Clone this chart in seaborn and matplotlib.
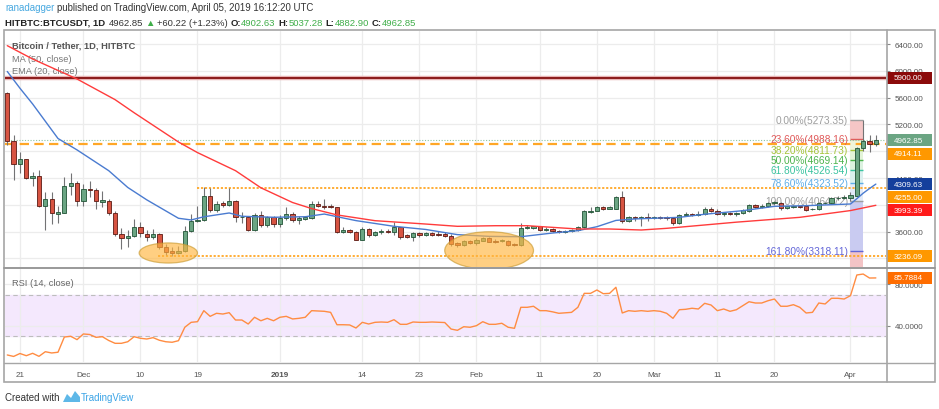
import numpy as np
import pandas as pd
import matplotlib
matplotlib.use("Agg")
import matplotlib.pyplot as plt
import matplotlib.dates as mdates
from matplotlib.patches import Rectangle, Ellipse, Polygon
from matplotlib.lines import Line2D
from matplotlib.transforms import blended_transform_factory
import seaborn as sns

# daily BTC/USDT candles, 2018-11-19 .. 2019-04-05
start = "2018-11-19"
opens = [
    5664, 4948, 4605, 4680, 4396, 4431, 3979, 4083, 3864, 3884,
    4277, 4327, 4053, 4242, 4222, 4048, 4063, 3874, 3567, 3502,
    3537, 3666, 3567, 3527, 3567, 3368, 3308, 3283, 3316, 3605,
    3760, 3774, 4137, 3923, 4028, 4003, 4062, 3813, 3823, 3630,
    3853, 3704, 3813, 3714, 3803, 3863, 3774, 3794, 3799, 4012,
    3983, 3988, 3963, 3600, 3625, 3590, 3480, 3640, 3555, 3590,
    3615, 3590, 3664, 3550, 3525, 3575, 3550, 3575, 3570, 3565,
    3540, 3430, 3406, 3455, 3430, 3465, 3505, 3455, 3455, 3465,
    3416, 3396, 3650, 3650, 3680, 3625, 3640, 3615, 3590, 3605,
    3625, 3664, 3898, 3913, 3973, 3943, 3943, 4112, 3754, 3823,
    3808, 3823, 3808, 3823, 3818, 3808, 3724, 3848, 3860, 3850,
    3863, 3938, 3913, 3858, 3878, 3858, 3873, 3913, 3998, 3973,
    3988, 4022, 4028, 3953, 3973, 3978, 3978, 3933, 3938, 4028,
    4022, 4097, 4097, 4097, 4137, 4843, 4947, 4902.63]
highs = [
    5690, 5047, 4794, 4690, 4486, 4525, 4187, 4197, 3988, 4411,
    4471, 4361, 4312, 4361, 4247, 4212, 4088, 3914, 3656, 3631,
    3789, 3750, 3631, 3641, 3580, 3416, 3367, 3391, 3689, 3864,
    3988, 4261, 4252, 4063, 4063, 4252, 4070, 3888, 3838, 3873,
    3903, 3838, 3838, 3853, 3963, 3888, 3838, 3838, 4052, 4062,
    4087, 4012, 3973, 3665, 3640, 3615, 3665, 3655, 3615, 3640,
    3640, 3739, 3675, 3565, 3590, 3590, 3590, 3590, 3605, 3590,
    3565, 3450, 3475, 3475, 3500, 3525, 3515, 3490, 3490, 3475,
    3425, 3729, 3704, 3690, 3690, 3665, 3655, 3625, 3625, 3640,
    3690, 3923, 3973, 3988, 3988, 3978, 4137, 4201, 3838, 3838,
    3838, 3873, 3838, 3838, 3830, 3818, 3863, 3898, 3880, 3913,
    3963, 3963, 3938, 3898, 3888, 3898, 3943, 4013, 4013, 4013,
    4037, 4052, 4047, 3990, 3998, 3990, 3988, 3960, 4047, 4050,
    4122, 4125, 4145, 4187, 4858, 5273.35, 5042, 5037.28]
lows = [
    4900, 4372, 4471, 4380, 4287, 3964, 3631, 3715, 3725, 3875,
    4148, 3979, 3979, 4122, 3939, 3964, 3854, 3542, 3343, 3368,
    3525, 3515, 3467, 3492, 3343, 3257, 3242, 3267, 3292, 3590,
    3740, 3754, 3888, 3888, 3963, 3988, 3740, 3724, 3605, 3605,
    3674, 3674, 3665, 3665, 3774, 3739, 3714, 3774, 3789, 3963,
    3938, 3948, 3575, 3575, 3575, 3475, 3475, 3525, 3540, 3565,
    3575, 3555, 3490, 3505, 3465, 3525, 3535, 3540, 3540, 3515,
    3391, 3376, 3391, 3416, 3401, 3455, 3440, 3430, 3440, 3391,
    3386, 3391, 3640, 3640, 3615, 3605, 3590, 3580, 3575, 3590,
    3605, 3655, 3873, 3903, 3923, 3933, 3933, 3724, 3739, 3764,
    3689, 3764, 3789, 3789, 3780, 3700, 3714, 3829, 3835, 3829,
    3848, 3888, 3848, 3838, 3843, 3829, 3863, 3898, 3958, 3948,
    3973, 4003, 3928, 3940, 3958, 3950, 3908, 3920, 3928, 4012,
    4008, 4080, 4087, 4064.72, 4127, 4800, 4783, 4882.90]
closes = [
    4948, 4605, 4685, 4396, 4431, 3979, 4088, 3874, 3894, 4277,
    4327, 4053, 4237, 4222, 4053, 4073, 3874, 3567, 3502, 3537,
    3666, 3577, 3527, 3567, 3368, 3302, 3283, 3316, 3605, 3764,
    3774, 4137, 3923, 4013, 3998, 4063, 3813, 3823, 3630, 3853,
    3704, 3813, 3714, 3803, 3863, 3774, 3799, 3813, 4012, 3978,
    3968, 3963, 3590, 3625, 3590, 3480, 3640, 3550, 3590, 3615,
    3590, 3664, 3525, 3525, 3575, 3550, 3575, 3555, 3555, 3540,
    3416, 3406, 3455, 3430, 3475, 3505, 3450, 3450, 3475, 3406,
    3396, 3654, 3674, 3680, 3625, 3640, 3605, 3590, 3615, 3625,
    3674, 3903, 3913, 3973, 3933, 3963, 4112, 3754, 3823, 3808,
    3818, 3808, 3823, 3808, 3800, 3724, 3853, 3860, 3850, 3870,
    3938, 3913, 3858, 3878, 3858, 3873, 3928, 3998, 3973, 3983,
    4022, 4037, 3948, 3978, 3983, 3963, 3928, 3945, 4028, 4035,
    4097, 4105, 4110, 4147, 4843, 4957, 4908, 4962.85]

rsi = [
    12.4, 11.0, 13.8, 11.7, 14.0, 11.1, 15.5, 14.3, 15.0, 29.5,
    30.2, 27.0, 32.4, 31.9, 29.2, 29.8, 26.2, 23.5, 23.5, 25.0,
    29.8, 28.3, 27.6, 28.9, 26.4, 25.0, 24.5, 26.0, 38.8, 43.5,
    44.1, 54.6, 49.2, 52.1, 51.4, 52.7, 45.7, 45.7, 41.9, 48.3,
    45.0, 47.3, 45.0, 48.3, 49.2, 46.7, 47.3, 48.3, 54.6, 54.3,
    54.0, 53.0, 41.2, 41.2, 41.0, 38.1, 43.5, 41.9, 43.5, 43.8,
    43.5, 46.0, 41.6, 41.6, 43.8, 43.5, 43.5, 43.8, 43.6, 43.3,
    37.1, 35.9, 39.3, 38.8, 40.3, 44.1, 41.6, 41.6, 42.6, 38.8,
    37.8, 57.8, 57.8, 58.8, 54.6, 54.6, 53.5, 52.1, 52.6, 53.0,
    57.8, 71.1, 71.1, 74.3, 70.8, 71.1, 76.9, 52.4, 54.6, 54.0,
    54.6, 54.0, 54.6, 54.0, 52.1, 47.3, 55.5, 55.9, 56.9, 56.2,
    61.6, 60.0, 54.6, 56.2, 54.0, 55.5, 59.3, 63.1, 61.9, 61.9,
    64.1, 65.7, 58.8, 58.8, 60.3, 57.8, 52.4, 53.0, 61.9, 61.0,
    66.4, 66.4, 65.7, 68.9, 88.6, 89.5, 85.7, 85.7884]

# EMA(20) and MA(50)
ema_dates = ["2018-11-19", "2018-11-21", "2018-11-23", "2018-11-27", "2018-11-30",
             "2018-12-05", "2018-12-08", "2018-12-11", "2018-12-16", "2018-12-18",
             "2018-12-20", "2018-12-24", "2018-12-26", "2018-12-31", "2019-01-05",
             "2019-01-08", "2019-01-13", "2019-01-19", "2019-01-24", "2019-01-29",
             "2019-02-03", "2019-02-08", "2019-02-13", "2019-02-17", "2019-02-20",
             "2019-02-23", "2019-02-26", "2019-03-05", "2019-03-09", "2019-03-15",
             "2019-03-20", "2019-03-25", "2019-04-01", "2019-04-02", "2019-04-03",
             "2019-04-04", "2019-04-05"]
ema_vals = [5990, 5740, 5505, 4990, 4820, 4510, 4260, 4075, 3800, 3775,
            3822, 3879, 3830, 3815, 3823, 3863, 3765, 3680, 3633, 3556,
            3530, 3525, 3580, 3615, 3674, 3768, 3790, 3814, 3860, 3913,
            3978, 3988, 4013, 4092, 4174, 4244, 4309.63]
ma_dates = ["2018-11-19", "2018-11-23", "2018-11-30", "2018-12-06", "2018-12-09",
            "2018-12-16", "2018-12-19", "2018-12-25", "2018-12-29", "2019-01-03",
            "2019-01-06", "2019-01-10", "2019-01-16", "2019-01-24", "2019-01-29",
            "2019-02-04", "2019-02-09", "2019-02-17", "2019-02-22", "2019-02-27",
            "2019-03-03", "2019-03-09", "2019-03-14", "2019-03-24", "2019-04-01",
            "2019-04-05"]
ma_vals = [6375, 6176, 5878, 5570, 5375, 4938, 4780, 4510, 4255, 4035,
           3945, 3850, 3764, 3714, 3680, 3689, 3689, 3640, 3640, 3625,
           3650, 3700, 3742, 3814, 3915, 3993.39]

fib_pcts = ["0.00%", "23.60%", "38.20%", "50.00%", "61.80%", "78.60%", "100.00%", "161.80%"]
fib_prices = [5273.35, 4988.16, 4811.73, 4669.14, 4526.54, 4323.52, 4064.72, 3318.11]

resistance = 5900.00
support_dash = 4914.11
support_mid = 4255.00
support_low = 3236.09
last_price = 4962.85

price_ticks = [3200, 3600, 4000, 4400, 4800, 5200, 5600, 6000, 6400]
hidden_ticks = [3200, 4000, 4800]   # fully covered by the value tags
tick_dates = ["2018-11-21", "2018-12-01", "2018-12-10", "2018-12-19", "2019-01-01",
              "2019-01-14", "2019-01-23", "2019-02-01", "2019-02-11", "2019-02-20",
              "2019-03-01", "2019-03-11", "2019-03-20", "2019-04-01"]
tick_labels = ["21", "Dec", "10", "19", "2019", "14", "23", "Feb", "11", "20",
               "Mar", "11", "20", "Apr"]

UP, DOWN = "#6ba583", "#d75442"
UP_EDGE, DOWN_EDGE = "#225437", "#5b1a13"
WICK = "#737375"
ORANGE = "#ff9800"
GRID = "#ececec"

sns.set_style("white")
plt.rcParams["font.family"] = ["Liberation Sans", "DejaVu Sans"]

W, H = 939, 410
fig = plt.figure(figsize=(W / 100, H / 100), dpi=100)
fig.patch.set_facecolor("white")


def fx(px):
    return px / W


def fy(py):
    return 1 - py / H


ax = fig.add_axes([fx(5), fy(268), fx(881), 236 / H])
ax2 = fig.add_axes([fx(5), fy(363), fx(881), 93 / H])

dates = pd.date_range(start, periods=len(closes), freq="D")
x = mdates.date2num(dates)
o, h, l, c = map(np.array, (opens, highs, lows, closes))
x0 = x[0]
xlim = (x0 - 0.36, x0 + 138.6)
ylim = (3073, 6594)

# candles
up = c >= o
ax.vlines(x, l, h, color=WICK, lw=0.8, zorder=4)
ax.bar(x, np.maximum(np.abs(c - o), 4), bottom=np.minimum(o, c), width=0.68,
       color=np.where(up, UP, DOWN), edgecolor=np.where(up, UP_EDGE, DOWN_EDGE),
       linewidth=0.6, zorder=5)

# moving averages
sns.lineplot(x=mdates.date2num(pd.to_datetime(ema_dates)), y=ema_vals, ax=ax,
             color="#4a7bd0", lw=1.0, zorder=6)
sns.lineplot(x=mdates.date2num(pd.to_datetime(ma_dates)), y=ma_vals, ax=ax,
             color="#ff3b3b", lw=1.0, zorder=6)

# horizontal levels
ax.axhline(resistance, color="#e8b4b4", lw=3.2, zorder=3)
ax.axhline(resistance, color="#8b1a1a", lw=1.4, zorder=3)
ax.axhline(last_price, color="#8fc49e", lw=0.8, ls=(0, (1, 1.5)), zorder=3)
ax.axhline(support_dash, color="#ffa726", lw=1.6, ls=(0, (4.2, 2.4)), zorder=3)
ax.hlines(support_mid, x0 + 29.9, xlim[1], color="#ffa726", lw=1.3, ls=(0, (1.2, 1)), zorder=3)
ax.hlines(support_low, x0 + 23.8, xlim[1], color="#ffa726", lw=1.3, ls=(0, (1.2, 1)), zorder=3)

# fibonacci retracement (Apr 1 -> Apr 3)
fib_colors = ["#9e9e9e", "#e05a5a", "#a5c43a", "#4cb34c", "#3cc4a0", "#5eaee8", "#9e9e9e", "#6366d8"]
fib_fills = ["#f5c6c6", "#eef5dc", "#e3f4d9", "#dcf2e0", "#daf0ee", "#e3ebf8", "#c9cbf1"]
fa, fb = x0 + 133.0, x0 + 135.0
for i in range(len(fib_prices) - 1):
    ax.add_patch(Rectangle((fa, fib_prices[i + 1]), fb - fa, fib_prices[i] - fib_prices[i + 1],
                           fc=fib_fills[i], ec="none", zorder=1))
ax.add_patch(Rectangle((fa, ylim[0]), fb - fa, fib_prices[-1] - ylim[0],
                       fc="#f3c4c6", ec="none", zorder=1))
for pct, price, col in zip(fib_pcts, fib_prices, fib_colors):
    ax.hlines(price, fa, fb, color=col, lw=1.0, zorder=2)
    ax.text(x0 + 132.6, price, f"{pct}({price:.2f})", color=col, fontsize=7.3,
            ha="right", va="center", zorder=3)

# highlighted bottoms
ax.add_patch(Ellipse((x0 + 25.4, 3282), 9.2, 300, fc="#ffb640", ec="#c99a30",
                     lw=0.9, alpha=0.65, zorder=7))
ax.add_patch(Ellipse((x0 + 76.0, 3319), 14.0, 560, fc="#ffb640", ec="#c99a30",
                     lw=0.9, alpha=0.65, zorder=7))

ax.set_xlim(*xlim)
ax.set_ylim(*ylim)
ax.yaxis.tick_right()
ax.set_yticks(price_ticks)
ax.set_yticklabels(["" if v in hidden_ticks else f"{v:.2f}" for v in price_ticks])
ax.tick_params(axis="y", length=3, width=0.8, color="#888", pad=3, labelsize=5.8,
               labelcolor="#555")
ax.set_xticks(mdates.date2num(pd.to_datetime(tick_dates)))
ax.tick_params(axis="x", length=0, labelbottom=False)
ax.grid(True, color=GRID, lw=0.9, zorder=0)
ax.set_axisbelow(True)
for s in ax.spines.values():
    s.set_visible(False)
ax.set_xlabel("")
ax.set_ylabel("")

ax.text(0.008, 0.94, "Bitcoin / Tether, 1D, HITBTC", transform=ax.transAxes, fontsize=6.7,
        color="#555", fontweight="bold", va="center")
ax.text(0.008, 0.885, "MA (50, close)", transform=ax.transAxes, fontsize=6.7, color="#777", va="center")
ax.text(0.008, 0.833, "EMA (20, close)", transform=ax.transAxes, fontsize=6.7, color="#777", va="center")

# RSI panel
ax2.axhspan(30, 70, color="#f4e8fd", zorder=0)
ax2.axhline(70, color="#bdbdbd", lw=0.8, ls=(0, (4, 3)), zorder=1)
ax2.axhline(30, color="#bdbdbd", lw=0.8, ls=(0, (4, 3)), zorder=1)
sns.lineplot(x=x, y=rsi, ax=ax2, color="#ff8c42", lw=1.0, zorder=3)
ax2.set_xlim(*xlim)
ax2.set_ylim(5.7, 94.3)
ax2.yaxis.tick_right()
ax2.set_yticks([40, 80])
ax2.set_yticklabels(["40.0000", "80.0000"])
ax2.tick_params(axis="y", length=3, width=0.8, color="#888", pad=3, labelsize=5.8,
                labelcolor="#555")
ax2.set_xticks(mdates.date2num(pd.to_datetime(tick_dates)))
ax2.set_xticklabels(tick_labels)
ax2.tick_params(axis="x", length=0, pad=6.5, labelsize=5.9, labelcolor="#555")
for lab in ax2.get_xticklabels():
    if lab.get_text() == "2019":
        lab.set_fontweight("bold")
ax2.grid(True, color=GRID, lw=0.9, zorder=0)
ax2.set_axisbelow(True)
for s in ax2.spines.values():
    s.set_visible(False)
ax2.set_xlabel("")
ax2.set_ylabel("")
ax2.text(0.008, 0.86, "RSI (14, close)", transform=ax2.transAxes, fontsize=6.7, color="#666", va="center")


def price_tag(axis, y, label, color, units_per_px):
    tr = blended_transform_factory(axis.transAxes, axis.transData)
    hh = 12 * units_per_px
    axis.add_patch(Rectangle((1.0011, y - hh / 2), 0.0511, hh, transform=tr, fc=color,
                             ec="none", clip_on=False, zorder=20))
    axis.text(1.0085, y, label, transform=tr, color="white", fontsize=5.8, va="center",
              ha="left", clip_on=False, zorder=21)


upp = (ylim[1] - ylim[0]) / 236
price_tag(ax, resistance, f"{resistance:.2f}", "#8b0a0a", upp)
price_tag(ax, 4962.85, f"{last_price:.2f}", UP, upp)
price_tag(ax, 4759, f"{support_dash:.2f}", ORANGE, upp)
price_tag(ax, 4309.63, f"{ema_vals[-1]:.2f}", "#143f9c", upp)
price_tag(ax, 4117, f"{support_mid:.2f}", ORANGE, upp)
price_tag(ax, 3923, f"{ma_vals[-1]:.2f}", "#ff1a1a", upp)
price_tag(ax, support_low, f"{support_low:.2f}", ORANGE, upp)
price_tag(ax2, rsi[-1], f"{rsi[-1]:.4f}", "#ff6d00", (94.3 - 5.7) / 93)

# chart frame
frame = "#a6a6a6"
fig.add_artist(Rectangle((fx(4), fy(383)), fx(931), 352 / H, transform=fig.transFigure,
                         fill=False, ec=frame, lw=1.2))
fig.add_artist(Line2D([fx(886.5), fx(886.5)], [fy(31), fy(383)], transform=fig.transFigure,
                      color=frame, lw=1.2))
fig.add_artist(Line2D([fx(4), fx(935)], [fy(269), fy(269)], transform=fig.transFigure,
                      color="#999", lw=1.4))
fig.add_artist(Line2D([fx(4), fx(935)], [fy(363.5), fy(363.5)], transform=fig.transFigure,
                      color=frame, lw=1.0))

# header and footer
renderer = fig.canvas.get_renderer()


def chain_text(x_px, y_px, parts, size):
    xp = x_px
    for s, col, weight, gap in parts:
        t = fig.text(fx(xp), fy(y_px), s, color=col, fontsize=size, fontweight=weight,
                     ha="left", va="center")
        xp += t.get_window_extent(renderer=renderer).width + gap


DARK, GREEN = "#333333", "#3fae49"
chain_text(5, 8, [("ranadagger", "#46a8e0", "normal", 3),
                  ("published on TradingView.com, April 05, 2019 16:12:20 UTC", DARK, "normal", 0)], 6.9)
chain_text(5, 23, [("HITBTC:BTCUSDT, 1D", "#222", "bold", 4),
                   ("4962.85", DARK, "normal", 2), ("\u25b2", GREEN, "normal", 2),
                   ("+60.22 (+1.23%)", DARK, "normal", 3),
                   ("O:", "#222", "bold", 0), ("4902.63", GREEN, "normal", 3),
                   ("H:", "#222", "bold", 0), ("5037.28", GREEN, "normal", 3),
                   ("L:", "#222", "bold", 0), ("4882.90", GREEN, "normal", 3),
                   ("C:", "#222", "bold", 0), ("4962.85", GREEN, "normal", 0)], 6.8)

fig.text(fx(5), fy(398), "Created with", color=DARK, fontsize=7.0, ha="left", va="center")
logo = [(63, 403), (67, 395), (71, 399), (75, 392), (80, 398), (80, 403)]
fig.add_artist(Polygon([(fx(a), fy(b)) for a, b in logo], closed=True, transform=fig.transFigure,
                       fc="#5eb8e8", ec="none"))
fig.text(fx(81), fy(398), "TradingView", color="#3ba4e6", fontsize=7.0, ha="left", va="center")

fig.savefig("out.png", dpi=100)
